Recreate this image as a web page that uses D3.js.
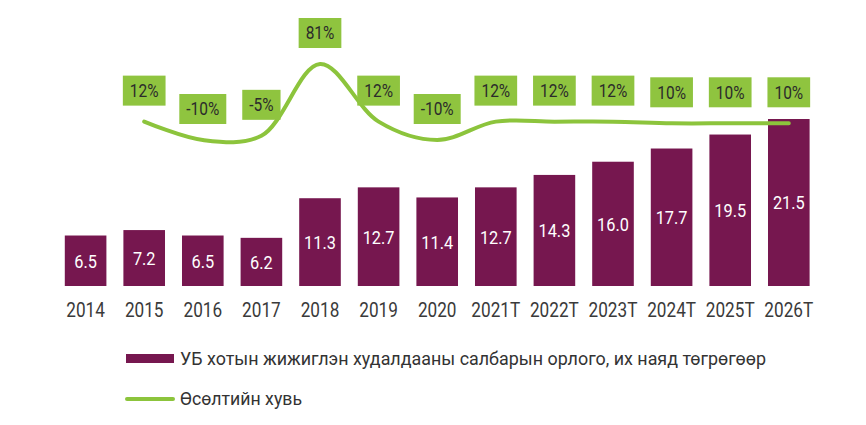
<!DOCTYPE html>
<html>
<head>
<meta charset="utf-8">
<script src="https://cdn.jsdelivr.net/npm/d3@7"></script>
<style>
html,body{margin:0;padding:0;background:#fff;}
svg{display:block;}
text{font-family:Roboto,"Liberation Sans",sans-serif;}
</style>
</head>
<body>
<svg id="chart" width="866" height="425"></svg>
<script>
const categories = ["2014","2015","2016","2017","2018","2019","2020","2021T","2022T","2023T","2024T","2025T","2026T"];
const revenue = [6.5,7.2,6.5,6.2,11.3,12.7,11.4,12.7,14.3,16.0,17.7,19.5,21.5];
const growthCats = ["2015","2016","2017","2018","2019","2020","2021T","2022T","2023T","2024T","2025T","2026T"];
const growth = [12,-10,-5,81,12,-10,12,12,12,10,10,10];
const legendLabels = ["УБ хотын жижиглэн худалдааны салбарын орлого, их наяд төгрөгөөр","Өсөлтийн хувь"];

const barColor = "#76174f";
const lineColor = "#8cc43c";
const boxColor = "#8fc43f";
const squeeze = "scale(0.86,1)";

const svg = d3.select("#chart");

const x = d3.scaleBand().domain(categories).range([56.3, 818.1]).paddingInner(0.29).paddingOuter(0.145);
const y = d3.scaleLinear().domain([0, 21.5]).range([286, 119]);
const yG = d3.scaleLinear().domain([-10, 81]).range([140, 64]);

// bars
svg.append("g").selectAll("rect").data(revenue).join("rect")
  .attr("x", (d,i) => x(categories[i]))
  .attr("y", d => y(d))
  .attr("width", x.bandwidth())
  .attr("height", d => y(0) - y(d))
  .attr("fill", barColor);

// bar labels
svg.append("g").selectAll("g").data(revenue).join("g")
  .attr("transform", (d,i) => `translate(${x(categories[i]) + x.bandwidth()/2},${(y(d) + y(0))/2})`)
  .append("text")
  .attr("transform", squeeze)
  .attr("dy", "0.36em")
  .attr("text-anchor", "middle")
  .attr("fill", "#fff")
  .attr("font-size", 19)
  .attr("font-weight", 400)
  .text(d => d.toFixed(1));

// x axis
const xAxis = d3.axisBottom(x).tickSize(0).tickPadding(0);
const ax = svg.append("g").attr("transform", "translate(0,303)").call(xAxis);
ax.select(".domain").remove();
ax.selectAll("text").attr("font-size", 20).attr("fill", "#3a3a3a").attr("dy", "0.72em")
  .attr("transform", squeeze)
  .style("font-family", 'Roboto,"Liberation Sans",sans-serif');

// growth line
const line = d3.line()
  .x((d,i) => x(growthCats[i]) + x.bandwidth()/2)
  .y(d => yG(d))
  .curve(d3.curveCatmullRom.alpha(0.5));
svg.append("path").datum(growth)
  .attr("d", line)
  .attr("fill", "none")
  .attr("stroke", lineColor)
  .attr("stroke-width", 4)
  .attr("stroke-linecap", "round");

// growth labels
const lg = svg.append("g").selectAll("g").data(growth).join("g")
  .attr("transform", (d,i) => `translate(${x(growthCats[i]) + x.bandwidth()/2},${yG(d) - 31})`);
lg.append("rect").attr("fill", boxColor);
lg.append("text")
  .attr("text-anchor", "middle")
  .attr("dy", "0.36em")
  .attr("font-size", 18)
  .attr("transform", squeeze)
  .attr("fill", "#2b2b2b")
  .text(d => d + "%");
lg.each(function() {
  const g = d3.select(this);
  const bb = g.select("text").node().getBBox();
  const w = bb.width * 0.86 + 14;
  g.select("rect").attr("x", -w/2).attr("y", -15).attr("width", w).attr("height", 30);
});

// legend
const leg = svg.append("g");
leg.append("rect").attr("x", 126).attr("y", 354).attr("width", 48).attr("height", 9).attr("fill", barColor);
leg.append("text").attr("x", 180).attr("y", 365).attr("font-size", 18).attr("fill", "#333")
  .attr("textLength", 586).attr("lengthAdjust", "spacingAndGlyphs").text(legendLabels[0]);
leg.append("line").attr("x1", 127).attr("x2", 173).attr("y1", 399).attr("y2", 399)
  .attr("stroke", lineColor).attr("stroke-width", 4).attr("stroke-linecap", "round");
leg.append("text").attr("x", 180).attr("y", 405).attr("font-size", 18).attr("fill", "#333")
  .attr("textLength", 122).attr("lengthAdjust", "spacingAndGlyphs").text(legendLabels[1]);
</script>
</body>
</html>
